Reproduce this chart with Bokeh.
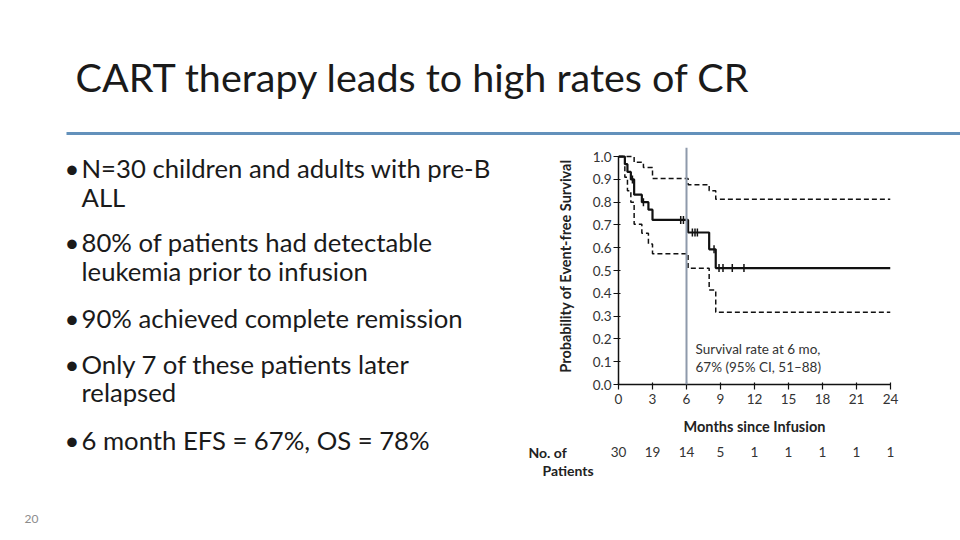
import numpy as np
from bokeh.plotting import figure
from bokeh.models import Range1d, Span, FixedTicker, NumeralTickFormatter
from bokeh.core.properties import value
from bokeh.embed import file_html
from bokeh.resources import INLINE

# ---- data ----
efs_t = [0, 0.56, 0.79, 1.09, 1.38, 2.06, 2.64, 3.0, 6.14, 8.0, 8.58, 24]
efs_s = [1.0, 0.967, 0.933, 0.9, 0.833, 0.8, 0.767, 0.722, 0.667, 0.593, 0.511, 0.511]
upper_t = [0, 1.38, 2.2, 3.0, 6.14, 8.0, 8.58, 24]
upper_s = [1.0, 0.975, 0.952, 0.904, 0.877, 0.85, 0.813, 0.813]
lower_t = [0, 0.56, 0.79, 1.09, 1.38, 2.06, 2.64, 3.0, 6.14, 8.0, 8.58, 24]
lower_s = [1.0, 0.91, 0.85, 0.8, 0.703, 0.664, 0.617, 0.574, 0.51, 0.415, 0.317, 0.317]
censor_t = [1.23, 2.2, 5.49, 5.73, 6.52, 6.75, 6.96, 8.43, 8.87, 9.22, 10.04, 11.07]
month_ticks = [0, 3, 6, 9, 12, 15, 18, 21, 24]
at_risk = [30, 19, 14, 5, 1, 1, 1, 1, 1]
surv_ticks = [0.0, 0.1, 0.2, 0.3, 0.4, 0.5, 0.6, 0.7, 0.8, 0.9, 1.0]
marker_month = 6

title_text = "CART therapy leads to high rates of CR"
bullets = [
    ["N=30 children and adults with pre-B", "ALL"],
    ["80% of patients had detectable", "leukemia prior to infusion"],
    ["90% achieved complete remission"],
    ["Only 7 of these patients later", "relapsed"],
    ["6 month EFS = 67%,  OS = 78%"],
]
annotation_lines = ["Survival rate at 6 mo,", "67% (95% CI, 51\u201388)"]

# censor marks sit on the KM curve
idx = np.searchsorted(efs_t, censor_t, side="right") - 1
censor_s = [efs_s[i] for i in idx]

FONT = "Lato"

p = figure(width=960, height=540, x_range=Range1d(0, 24), y_range=Range1d(0, 1.04),
           output_backend="svg", toolbar_location=None,
           min_border_left=618, min_border_right=70, min_border_top=147, min_border_bottom=156)
# page-pixel ranges for slide texts (frame spans page x 618..890, y 147..384)
p.extra_x_ranges = {"px": Range1d(618, 890)}
p.extra_y_ranges = {"py": Range1d(384, 147)}

p.outline_line_color = None
p.grid.visible = False
p.background_fill_color = "white"
p.border_fill_color = "white"

# axes
xa = p.xaxis[0]
xa.ticker = FixedTicker(ticks=month_ticks)
xa.bounds = (0, 24)
ya = p.yaxis[0]
ya.ticker = FixedTicker(ticks=surv_ticks)
ya.formatter = NumeralTickFormatter(format="0.0")
ya.bounds = (0, 1)
for ax in (xa, ya):
    ax.axis_line_color = "#111111"
    ax.axis_line_width = 1.5
    ax.major_tick_line_color = "#111111"
    ax.major_tick_line_width = 1.2
    ax.major_tick_in = 2
    ax.major_tick_out = 5
    ax.minor_tick_line_color = None
    ax.major_label_text_font = FONT
    ax.major_label_text_font_size = "13.5px"
    ax.major_label_text_color = "#333333"
    ax.axis_label_text_font = FONT
    ax.axis_label_text_font_size = "14.5px"
    ax.axis_label_text_font_style = "bold"
    ax.axis_label_text_color = "#222222"
xa.axis_label = "Months since Infusion"
xa.major_label_standoff = 4
xa.axis_label_standoff = 11
ya.axis_label = "Probability of Event-free Survival"
ya.major_label_standoff = 2
ya.axis_label_standoff = 16

# 6-month reference line
p.add_layout(Span(location=marker_month, dimension="height", line_color="#8e9aab", line_width=2))

# curves
p.step(upper_t, upper_s, mode="after", line_color="#111111", line_width=1.5, line_dash="5 3")
p.step(lower_t, lower_s, mode="after", line_color="#111111", line_width=1.5, line_dash="5 3")
p.step(efs_t, efs_s, mode="after", line_color="#111111", line_width=2.2)
p.scatter(censor_t, censor_s, marker="dash", angle=np.pi / 2, size=8,
          line_color="#111111", line_width=1.5)

BASE_SHIFT = 0.42  # em correction for the rendered alphabetic baseline


def txt(x, y, t, size, color, style="normal", align="left", xr="px", yr="py"):
    kw = {}
    if xr:
        kw["x_range_name"] = xr
    if yr:
        kw["y_range_name"] = yr
    y = [v - BASE_SHIFT * size for v in y]
    p.text(x=x, y=y, text=t, text_font=value(FONT), text_font_size=f"{size}px",
           text_font_style=style, text_color=color, text_align=align,
           text_baseline="alphabetic", level="overlay", **kw)


# annotation
txt([695, 695], [354, 372], annotation_lines, 13.5, "#333333")

# number at risk
txt(month_ticks, [457.5] * len(month_ticks), [str(n) for n in at_risk], 13.5, "#333333",
    align="center", xr=None)
txt([528], [457.5], ["No. of"], 14, "#222222", style="bold")
txt([542], [475.5], ["Patients"], 14, "#222222", style="bold")

# slide title and rule
txt([75], [93], [title_text], 39.5, "#1a1a1a")
rule_x = [66, 960]
rule_y = [133, 133]
p.line(rule_x, rule_y, x_range_name="px", y_range_name="py", line_color="#6391bb",
       line_width=3, level="overlay")

# bullets
bullet_y = [178.3, 252.7, 328.3, 374, 450.7]
line_gap = 28.7
bx, by_, bt = [], [], []
lx, ly, lt = [], [], []
for yy, lines in zip(bullet_y, bullets):
    bx.append(64); by_.append(yy); bt.append("\u2022")
    for j, t in enumerate(lines):
        lx.append(81); ly.append(yy + line_gap * j); lt.append(t)
txt(bx, by_, bt, 25.7, "#1a1a1a")
txt(lx, ly, lt, 25.7, "#1a1a1a")

# slide number
txt([24], [524], ["20"], 12, "#8c8c8c")

open("out.html", "w").write(file_html(p, INLINE))
